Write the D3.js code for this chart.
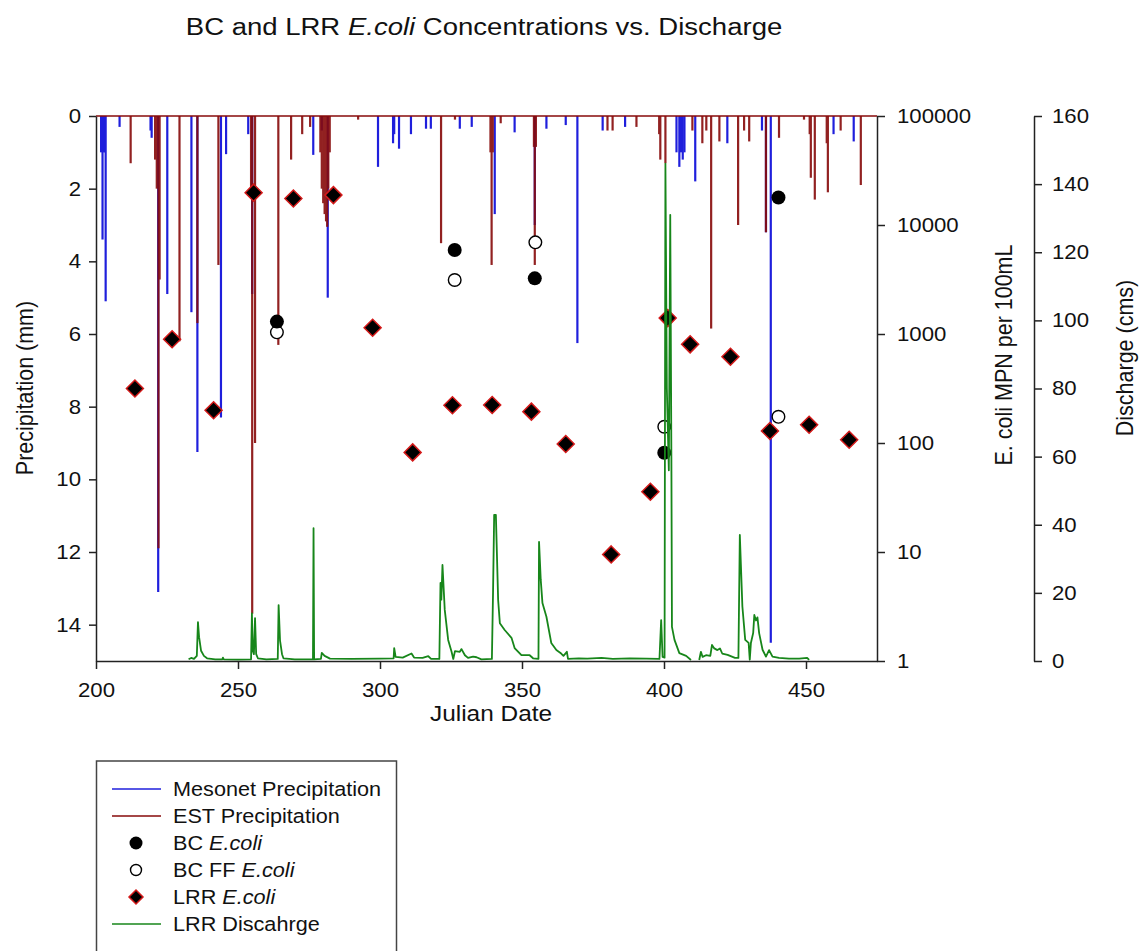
<!DOCTYPE html>
<html>
<head>
<meta charset="utf-8">
<script src="https://cdn.jsdelivr.net/npm/d3@7"></script>
<style>
  body { margin: 0; background: #fff; }
  text { font-family: "Liberation Sans", Arial, sans-serif; fill: #111; }
</style>
</head>
<body>
<div class="chart"></div>
<script>
// values

// Mesonet precipitation (mm) by julian day
var mesonetDays = [201.8, 202.3, 202.7, 203.1, 203.4, 208.3, 219.2, 219.6, 221.9, 225.1, 233.6, 235.7, 244.0, 245.8, 253.6, 255.0,
  276.5, 279.5, 281.6, 299.3, 304.6, 305.0, 306.7, 310.9, 316.2, 317.9, 328.1, 332.3, 340.4, 347.4, 354.5, 358.6, 365.4, 369.5,
  378.4, 386.3, 404.4, 405.4, 406.0, 406.6, 407.2, 411.0, 422.3, 434.5, 435.9, 437.6, 459.7, 466.8];
var mesonetMm = [1.0, 3.4, 1.0, 1.0, 5.1, 0.3, 0.4, 0.6, 13.1, 4.9, 5.4, 9.25, 8.3, 1.05, 0.5, 4.9,
  1.07, 0.4, 5.0, 1.4, 0.75, 0.5, 0.9, 0.5, 0.35, 0.35, 0.35, 0.3, 2.7, 0.45, 3.0, 0.35, 0.25, 6.25,
  0.4, 0.3, 1.0, 1.4, 1.0, 1.2, 1.0, 1.8, 0.75, 0.4, 3.2, 14.5, 0.5, 0.7];

// EST precipitation (mm)
var estDays = [212.2, 220.8, 221.4, 222.0, 222.4, 229.4, 235.7, 243.1, 254.6, 255.0, 256.0, 264.2, 268.7, 272.6, 275.4,
  279.0, 279.5, 280.0, 280.5, 281.0, 281.4, 281.8, 282.3, 292.3, 321.5, 326.4, 338.9, 339.3, 339.7, 342.5,
  354.2, 354.5, 354.9, 380.1, 381.9, 390.3, 398.3, 398.7, 400.5, 410.0, 413.5, 414.9, 416.6, 419.5, 426.1,
  428.2, 430.0, 435.9, 440.5, 449.3, 451.3, 451.7, 453.1, 457.3, 457.7, 462.2, 469.3];
var estMm = [1.3, 1.2, 2.0, 11.9, 4.5, 6.2, 5.7, 4.1, 2.0, 13.7, 9.0, 6.3, 1.2, 0.5, 0.3,
  1.0, 2.0, 2.4, 2.7, 2.9, 3.05, 2.0, 1.0, 0.1, 3.5, 0.1, 1.0, 4.1, 1.0, 0.2,
  0.85, 4.1, 0.85, 0.4, 0.4, 0.3, 0.5, 1.2, 1.3, 0.4, 0.75, 0.4, 5.85, 0.7, 3.0,
  0.4, 0.7, 3.2, 0.6, 0.1, 0.5, 1.7, 2.3, 0.75, 2.1, 0.4, 1.9];

// BC E.coli (MPN per 100mL)
var bcDays = [263.7, 326.3, 354.5, 400.1, 440.3];
var bcVals = [1300, 5900, 3240, 81.5, 17900];

// BC FF E.coli
var ffDays = [263.7, 326.3, 354.7, 400.1, 440.3];
var ffVals = [1036, 3130, 6930, 141, 174];

// LRR E.coli
var lrrDays = [213.7, 226.8, 241.4, 255.5, 269.5, 283.6, 297.4, 311.5, 325.5, 339.5, 353.3, 365.4, 381.4, 395.2,
  401.3, 409.2, 423.4, 437.3, 451.1, 465.2];
var lrrVals = [316, 895, 200, 19800, 17500, 18800, 1140, 82, 222, 223, 194, 98, 9.5, 35.7,
  1400, 804, 619, 129, 147, 107];

// LRR discharge (cms), null = gap in the record
var qDays = [232.6, 233.5, 234.5, 235.5, 235.9, 236.3, 237.0, 238.0, 239.1, 242.0, 244.5, 244.7, 245.0, 250.0,
  254.6, 254.9, 255.2, 255.6, 256.0, 256.4, 257.0, 260.0, 264.0, 264.3, 264.8, 265.5, 266.0, 270.0,
  276.4, 276.6, 276.8, 279.2, 279.5, 280.5, 282.4, 290.0, 300.0, 304.8, 305.0, 305.5, 308.0, 311.1, 312.0,
  315.0, 317.0, 318.0, 320.9, 321.3, 321.6, 322.0, 322.8, 324.0, 325.2, 325.8, 326.4, 328.1, 328.7, 329.9,
  331.0, 332.8, 334.0, 335.7, 339.4, 339.8, 340.2, 340.8, 341.6, 342.2, 343.9, 346.3, 347.4, 349.8, 352.7,
  353.9, 355.8, 356.0, 356.6, 357.2, 358.6, 360.3, 362.1, 363.8, 364.6, 365.8, 366.2, 370.0, 373.0, 378.0,
  382.0, 388.0, 393.7, 398.4, 399.0, 399.5, 400.2, 400.5, 401.0, 401.7, 402.2, 402.6, 402.8, 403.7, 405.4,
  407.8, 409.5, 411.0, 412.4, 413.0, 413.6, 414.8, 416.3, 416.9, 417.7, 418.8, 419.7, 420.5, 422.4, 425.0,
  426.2, 426.7, 427.6, 428.6, 429.8, 430.2, 430.6, 431.4, 431.8, 432.4, 432.9, 433.5, 434.7, 435.9, 437.0,
  438.2, 440.5, 444.0, 447.6, 450.4, 451.1];
var qVals = [0.5, 0.9, 0.6, 1.5, 11.4, 7, 3, 1.5, 0.8, 0.5, 0.5, 1.0, 0.5, 0.4,
  0.5, 14, 3, 2, 12.6, 2, 0.8, 0.5, 0.6, 16.4, 6, 2, 0.8, 0.5,
  0.5, 39, 0.5, 0.6, 2.4, 1.5, 0.7, 0.6, 0.7, 0.8, 3.8, 1.2, 1.0, 2.2, 1.0,
  0.9, 1.4, 0.6, 0.6, 22.9, 18, 28.2, 15, 6.2, 2.7, 0.6, 2.9, 2.7, 3.5, 1.7,
  0.9, 1.3, 1.1, 0.5, 0.6, 20, 42.9, 42.9, 17.9, 11.1, 9.1, 6.8, 3.8, 1.7, 1.7,
  0.8, 0.6, 35, 23.8, 17, 13, 5.3, 3.2, 2.2, 1.5, 2.7, 0.6, 0.8, 0.7, 0.9,
  0.6, 0.8, 0.7, 0.6, 12, 1.2, 1.0, 146, 80, 56, 131, 60, 10, 6.2, 2.3,
  1.5, 0.3, null, 0.3, 2.7, 1.2, 1.7, 1.5, 4.7, 3.7, 3.2, 3.7, 2.2, 1.8, 0.9,
  0.9, 37, 16, 6.2, 5.3, 0.4, 5.3, 8.2, 13.5, 11.9, 12.8, 8.2, 3.3, 1.3, 3.2,
  1.3, 0.9, 0.7, 0.7, 0.9, 0.3];

var xTicks = [200, 250, 300, 350, 400, 450];
var precipTicks = [0, 2, 4, 6, 8, 10, 12, 14];
var ecoliTicks = [1, 10, 100, 1000, 10000, 100000];
var qTicks = [0, 20, 40, 60, 80, 100, 120, 140, 160];

var svgWidth = 1147;
var svgHeight = 951;
var plot = { left: 96, right: 877, top: 116, bottom: 661 };
var SX = 1.11; // the reference's lettering is a little wider than tall

var blue = "#1f1fdc", brown = "#870a0a", green = "#17861a";

var svg = d3.select(".chart")
  .append("svg")
  .attr("width", svgWidth)
  .attr("height", svgHeight);

var xScale = d3.scaleLinear().domain([200, 475]).range([plot.left, plot.right]);
var yPrecip = d3.scaleLinear().domain([0, 15]).range([plot.top, plot.bottom]);
var yEcoli = d3.scaleLog().domain([1, 100000]).range([plot.bottom, plot.top]);
var yQ = d3.scaleLinear().domain([0, 160]).range([plot.bottom, plot.top]);

// precipitation hangs from the top as needles
var mesonet = mesonetDays.map(function(d, i) { return { day: d, mm: mesonetMm[i] }; });
var est = estDays.map(function(d, i) { return { day: d, mm: estMm[i] }; });

svg.append("g").selectAll("line")
  .data(mesonet)
  .enter().append("line")
  .attr("x1", function(d) { return xScale(d.day); })
  .attr("x2", function(d) { return xScale(d.day); })
  .attr("y1", yPrecip(0))
  .attr("y2", function(d) { return yPrecip(d.mm); })
  .attr("stroke", blue)
  .attr("stroke-width", 2.2);

var estG = svg.append("g").attr("opacity", 0.9);
estG.selectAll("line")
  .data(est)
  .enter().append("line")
  .attr("x1", function(d) { return xScale(d.day); })
  .attr("x2", function(d) { return xScale(d.day); })
  .attr("y1", yPrecip(0))
  .attr("y2", function(d) { return yPrecip(d.mm); })
  .attr("stroke", brown)
  .attr("stroke-width", 2.2);

// zero line of the EST series runs along the top
svg.append("line")
  .attr("x1", xScale(200)).attr("x2", xScale(475))
  .attr("y1", yPrecip(0)).attr("y2", yPrecip(0))
  .attr("stroke", brown)
  .attr("stroke-width", 1.6);

// E.coli markers
var diamond = function(h) { return "M0," + (-h) + "L" + h + ",0L0," + h + "L" + (-h) + ",0Z"; };

svg.append("g").selectAll("path")
  .data(lrrDays.map(function(d, i) { return { day: d, v: lrrVals[i] }; }))
  .enter().append("path")
  .attr("d", diamond(8.5))
  .attr("transform", function(d) { return "translate(" + xScale(d.day) + "," + yEcoli(d.v) + ")"; })
  .attr("fill", "#000")
  .attr("stroke", "#d41a1a")
  .attr("stroke-width", 1.5);

svg.append("g").selectAll("circle")
  .data(ffDays.map(function(d, i) { return { day: d, v: ffVals[i] }; }))
  .enter().append("circle")
  .attr("cx", function(d) { return xScale(d.day); })
  .attr("cy", function(d) { return yEcoli(d.v); })
  .attr("r", 6.3)
  .attr("fill", "#fff")
  .attr("stroke", "#000")
  .attr("stroke-width", 1.4);

svg.append("g").selectAll("circle")
  .data(bcDays.map(function(d, i) { return { day: d, v: bcVals[i] }; }))
  .enter().append("circle")
  .attr("cx", function(d) { return xScale(d.day); })
  .attr("cy", function(d) { return yEcoli(d.v); })
  .attr("r", 7)
  .attr("fill", "#000");

// discharge line
var qLine = d3.line()
  .defined(function(d) { return d.q != null; })
  .x(function(d) { return xScale(d.day); })
  .y(function(d) { return yQ(d.q); });

svg.append("path")
  .datum(qDays.map(function(d, i) { return { day: d, q: qVals[i] }; }))
  .attr("d", qLine)
  .attr("fill", "none")
  .attr("stroke", green)
  .attr("stroke-width", 1.8)
  .attr("stroke-linejoin", "round");

// axes
function styleAxis(g, fontSize) {
  g.select(".domain").attr("stroke", "#222").attr("stroke-width", 1.5);
  g.selectAll(".tick line").attr("stroke", "#222").attr("stroke-width", 1.5);
  g.selectAll(".tick text")
    .attr("font-size", fontSize)
    .attr("font-family", "Liberation Sans, Arial, sans-serif")
    .attr("fill", "#111");
}

var bottomAxis = d3.axisBottom(xScale).tickValues(xTicks).tickSize(8).tickSizeOuter(0).tickPadding(14);
var gx = svg.append("g").attr("transform", "translate(0," + plot.bottom + ")").call(bottomAxis);
styleAxis(gx, 20);
gx.selectAll(".tick text").attr("transform", "scale(" + SX + ",1)");

var leftAxis = d3.axisLeft(yPrecip).tickValues(precipTicks).tickSize(7).tickSizeOuter(0).tickPadding(8);
var gy = svg.append("g").attr("transform", "translate(" + plot.left + ",0)").call(leftAxis);
styleAxis(gy, 20);
gy.selectAll(".tick text").attr("x", -15 / SX).attr("transform", "scale(" + SX + ",1)");

var ecoliAxis = d3.axisRight(yEcoli).tickValues(ecoliTicks).tickFormat(d3.format("d")).tickSize(8).tickSizeOuter(0);
var ge = svg.append("g").attr("transform", "translate(" + plot.right + ",0)").call(ecoliAxis);
styleAxis(ge, 20);
ge.selectAll(".tick text").attr("x", 20 / SX).attr("transform", "scale(" + SX + ",1)");

var qAxis = d3.axisRight(yQ).tickValues(qTicks).tickSize(8).tickSizeOuter(0);
var gq = svg.append("g").attr("transform", "translate(1034,0)").call(qAxis);
styleAxis(gq, 20);
gq.selectAll(".tick text").attr("x", 18 / SX).attr("transform", "scale(" + SX + ",1)");

// titles
var title = svg.append("text")
  .attr("transform", "translate(484,35) scale(" + SX + ",1)")
  .attr("text-anchor", "middle")
  .attr("font-size", 24.8);
title.append("tspan").text("BC and LRR ");
title.append("tspan").attr("font-style", "italic").text("E.coli");
title.append("tspan").text(" Concentrations vs. Discharge");

svg.append("text")
  .attr("transform", "translate(491,721) scale(" + SX + ",1)")
  .attr("text-anchor", "middle")
  .attr("font-size", 22)
  .text("Julian Date");

svg.append("text")
  .attr("transform", "translate(33,388) scale(" + SX + ",1) rotate(-90)")
  .attr("text-anchor", "middle")
  .attr("font-size", 21.5)
  .text("Precipitation (mm)");

svg.append("text")
  .attr("transform", "translate(1012,355) scale(" + SX + ",1) rotate(-90)")
  .attr("text-anchor", "middle")
  .attr("font-size", 21.5)
  .text("E. coli MPN per 100mL");

svg.append("text")
  .attr("transform", "translate(1133,358) scale(" + SX + ",1) rotate(-90)")
  .attr("text-anchor", "middle")
  .attr("font-size", 21.5)
  .text("Discharge (cms)");

// legend
var legendItems = [
  { name: "Mesonet Precipitation", ital: "", kind: "line", color: blue },
  { name: "EST Precipitation", ital: "", kind: "line", color: brown },
  { name: "BC ", ital: "E.coli", kind: "dot" },
  { name: "BC FF ", ital: "E.coli", kind: "open" },
  { name: "LRR ", ital: "E.coli", kind: "diamond" },
  { name: "LRR Discahrge", ital: "", kind: "line", color: green }
];

var legend = svg.append("g");
legend.append("rect")
  .attr("x", 96.5).attr("y", 761)
  .attr("width", 300).attr("height", 260)
  .attr("fill", "#fff")
  .attr("stroke", "#444")
  .attr("stroke-width", 1.5);

var rows = legend.selectAll("g.row")
  .data(legendItems)
  .enter().append("g")
  .attr("class", "row")
  .attr("transform", function(d, i) { return "translate(0," + (789 + i * 27) + ")"; });

rows.each(function(d) {
  var r = d3.select(this);
  if (d.kind == "line") {
    r.append("line").attr("x1", 112).attr("x2", 161).attr("y1", 0).attr("y2", 0)
      .attr("stroke", d.color).attr("stroke-width", 1.6);
  } else if (d.kind == "dot") {
    r.append("circle").attr("cx", 136).attr("cy", 0).attr("r", 6.5).attr("fill", "#000");
  } else if (d.kind == "open") {
    r.append("circle").attr("cx", 136).attr("cy", 0).attr("r", 5.5)
      .attr("fill", "#fff").attr("stroke", "#000").attr("stroke-width", 1.4);
  } else {
    r.append("path").attr("d", diamond(7)).attr("transform", "translate(136,0)")
      .attr("fill", "#000").attr("stroke", "#d41a1a").attr("stroke-width", 1.5);
  }
  var t = r.append("text")
    .attr("transform", "translate(173,7) scale(" + SX + ",1)")
    .attr("font-size", 19.5);
  t.append("tspan").text(d.name);
  if (d.ital) t.append("tspan").attr("font-style", "italic").text(d.ital);
});
</script>
</body>
</html>
